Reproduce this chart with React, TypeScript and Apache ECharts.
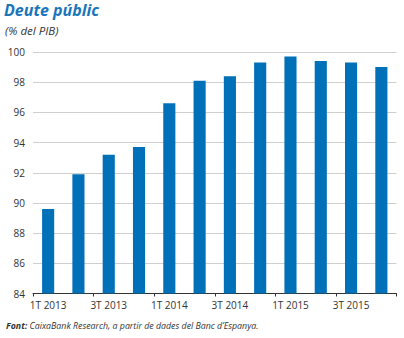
import React, { useEffect, useRef } from "react";
import * as echarts from "echarts";

const categories = ["1T 2013", "2T 2013", "3T 2013", "4T 2013", "1T 2014", "2T 2014", "3T 2014", "4T 2014", "1T 2015", "2T 2015", "3T 2015", "4T 2015"];
const debtValues = [89.6, 91.9, 93.2, 93.7, 96.6, 98.1, 98.4, 99.3, 99.7, 99.4, 99.3, 99.0];
const titleText = "Deute públic";
const subtitleText = "(% del PIB)";
const sourceLabel = "Font:";
const sourceText = " CaixaBank Research, a partir de dades del Banc d’Espanya.";

const FONT = "'Open Sans', 'Noto Sans', sans-serif";

export default function App() {
  const ref = useRef<HTMLDivElement>(null);
  useEffect(() => {
    if (!ref.current) return;
    const chart = echarts.init(ref.current, undefined, { renderer: "svg" });
    chart.setOption({
      animation: false,
      backgroundColor: "#ffffff",
      grid: { left: 33, right: 7.5, top: 52, bottom: 44.5, containLabel: false },
      xAxis: {
        type: "category",
        data: categories,
        axisLine: { show: true, lineStyle: { color: "#333333", width: 1 } },
        axisTick: { show: true, interval: 1, length: 3, lineStyle: { color: "#333333" } },
        axisLabel: { interval: 1, color: "#333333", fontSize: 10, fontFamily: FONT, margin: 6 },
      },
      yAxis: {
        type: "value",
        min: 84,
        max: 100,
        interval: 2,
        axisLine: { show: false },
        axisTick: { show: false },
        axisLabel: { color: "#333333", fontSize: 10, fontFamily: FONT, margin: 8 },
        splitLine: { show: true, lineStyle: { color: "#cfcfcf", width: 1 } },
      },
      series: [
        {
          type: "bar",
          data: debtValues,
          barWidth: "40%",
          itemStyle: { color: "#0070b8" },
        },
      ],
      graphic: [
        {
          type: "text",
          left: 4,
          top: 2,
          style: { text: titleText, font: `italic bold 16px ${FONT}`, fill: "#1b75bb" },
        },
        {
          type: "text",
          left: 5,
          top: 24,
          style: { text: subtitleText, font: `italic 11.5px ${FONT}`, fill: "#333333" },
        },
        {
          type: "text",
          left: 6,
          top: 321,
          style: {
            text: `{b|${sourceLabel}}{n|${sourceText}}`,
            rich: {
              b: { font: `italic bold 8.8px ${FONT}`, fill: "#333333" },
              n: { font: `italic 8.8px ${FONT}`, fill: "#333333" },
            },
          },
        },
      ],
    });
    return () => chart.dispose();
  }, []);
  return <div ref={ref} style={{ position: "absolute", left: 0, top: 0, width: 404, height: 338 }} />;
}
